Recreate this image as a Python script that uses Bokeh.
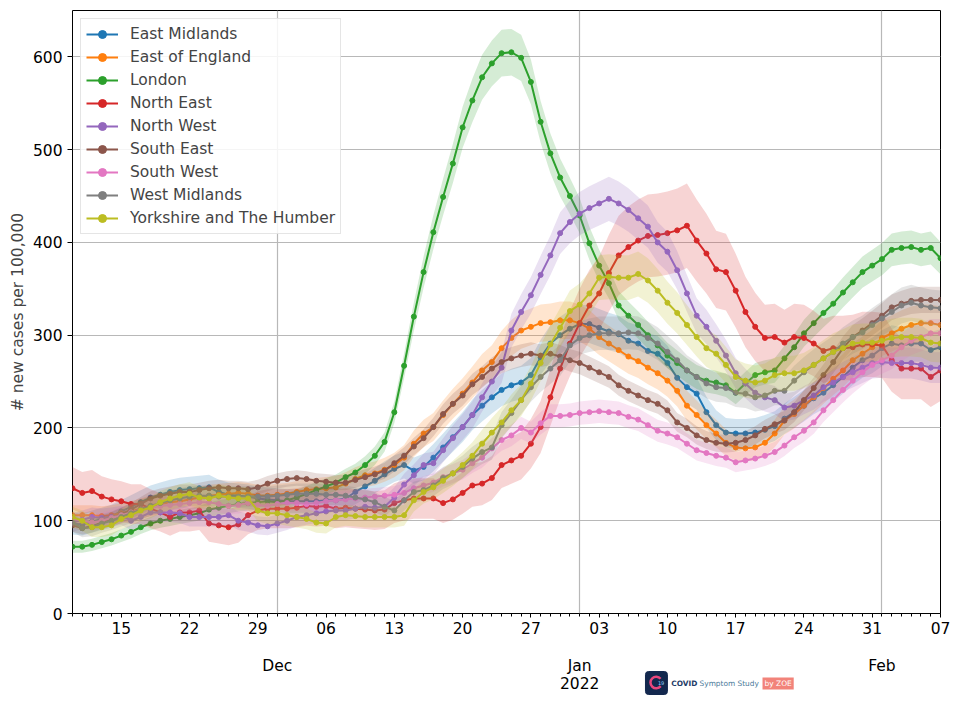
import pandas as pd
from bokeh.plotting import figure
from bokeh.layouts import column
from bokeh.models import FixedTicker, Range1d, Legend, LegendItem
from bokeh.core.properties import value
from bokeh.embed import file_html
from bokeh.resources import INLINE

# ---------------- data ----------------
dates = pd.date_range("2021-11-10", "2022-02-07", freq="D")
day = list(range(len(dates)))

regions = ["East Midlands", "East of England", "London", "North East", "North West",
           "South East", "South West", "West Midlands", "Yorkshire and The Humber"]
colors = ["#1f77b4", "#ff7f0e", "#2ca02c", "#d62728", "#9467bd",
          "#8c564b", "#e377c2", "#7f7f7f", "#bcbd22"]

east_midlands = [97, 96, 99, 102, 105, 110, 115, 120, 125, 128,
                 131, 133, 134, 135, 136, 131, 128, 127, 126, 124,
                 123, 122, 121, 121, 121, 121, 122, 122, 124, 131,
                 137, 143, 150, 156, 160, 154, 158, 168, 179, 190,
                 201, 214, 224, 233, 241, 246, 249, 257, 276, 291,
                 300, 307, 312, 312, 308, 304, 301, 294, 291, 283,
                 280, 270, 254, 244, 237, 217, 203, 195, 194, 194,
                 195, 198, 202, 210, 217, 224, 232, 238, 246, 255,
                 265, 273, 278, 286, 291, 289, 291, 291, 284, 287]
east_of_england = [106, 106, 106, 105, 106, 108, 110, 113, 116, 118,
                   120, 121, 123, 125, 127, 128, 129, 130, 129, 127,
                   127, 128, 129, 131, 133, 134, 135, 136, 140, 145,
                   149, 151, 155, 160, 168, 183, 194, 201, 214, 226,
                   237, 249, 262, 271, 286, 297, 305, 309, 313, 314,
                   316, 316, 313, 307, 298, 291, 284, 277, 272, 265,
                   259, 251, 240, 224, 214, 203, 194, 184, 179, 178,
                   179, 184, 194, 208, 215, 224, 233, 243, 253, 262,
                   273, 280, 287, 297, 302, 307, 311, 313, 313, 311]
london = [72, 72, 74, 77, 80, 84, 88, 93, 97, 100,
          102, 104, 106, 108, 112, 114, 116, 118, 119, 120,
          121, 120, 122, 125, 129, 133, 137, 141, 147, 152,
          160, 170, 185, 217, 267, 320, 368, 411, 449, 485,
          524, 553, 578, 593, 604, 605, 599, 573, 530, 496,
          470, 450, 429, 399, 375, 356, 332, 321, 311, 300,
          289, 278, 270, 262, 255, 251, 249, 246, 238, 248,
          257, 260, 262, 275, 287, 302, 313, 324, 334, 346,
          357, 368, 375, 382, 392, 394, 395, 392, 394, 383]
north_east = [135, 130, 132, 126, 123, 121, 118, 118, 113, 109,
              104, 109, 109, 111, 97, 95, 93, 96, 106, 111,
              113, 113, 113, 114, 116, 115, 116, 113, 114, 113,
              112, 111, 112, 119, 122, 124, 124, 124, 119, 123,
              130, 138, 140, 146, 160, 165, 170, 183, 201, 233,
              264, 291, 313, 332, 345, 367, 386, 395, 402, 407,
              408, 410, 413, 418, 402, 388, 371, 368, 348, 325,
              309, 297, 298, 292, 298, 297, 291, 283, 286, 286,
              287, 290, 290, 289, 273, 264, 264, 264, 255, 262]
north_west = [98, 101, 104, 103, 104, 106, 100, 104, 109, 109,
              109, 108, 104, 104, 104, 104, 106, 100, 98, 95,
              94, 97, 100, 104, 106, 108, 110, 111, 111, 113,
              115, 114, 115, 125, 139, 149, 160, 162, 176, 189,
              201, 214, 233, 250, 265, 305, 325, 343, 365, 386,
              410, 422, 431, 437, 442, 447, 442, 435, 426, 417,
              400, 390, 370, 345, 321, 309, 294, 278, 259, 248,
              238, 233, 230, 222, 224, 230, 235, 244, 249, 255,
              260, 265, 270, 271, 270, 270, 270, 268, 265, 265]
south_east = [95, 92, 94, 98, 102, 107, 112, 118, 124, 127,
              129, 131, 131, 133, 135, 136, 135, 135, 134, 136,
              140, 143, 145, 146, 145, 143, 142, 141, 141, 144,
              147, 150, 154, 162, 170, 180, 189, 201, 215, 226,
              235, 247, 255, 264, 271, 275, 278, 280, 278, 280,
              277, 273, 270, 265, 260, 255, 246, 240, 235, 230,
              226, 219, 206, 200, 192, 187, 184, 183, 184, 187,
              192, 199, 204, 208, 217, 230, 243, 257, 271, 286,
              298, 305, 313, 321, 330, 334, 337, 338, 338, 338]
south_west = [102, 100, 98, 100, 103, 106, 109, 112, 114, 116,
              117, 118, 119, 120, 120, 118, 116, 117, 119, 117,
              116, 118, 119, 119, 118, 119, 121, 122, 123, 124,
              125, 126, 127, 128, 130, 135, 138, 141, 147, 151,
              155, 162, 168, 178, 187, 192, 200, 195, 205, 213,
              213, 214, 216, 217, 218, 217, 216, 212, 209, 203,
              197, 194, 190, 183, 176, 173, 170, 168, 163, 165,
              167, 170, 174, 181, 190, 197, 206, 219, 230, 241,
              251, 260, 268, 273, 278, 287, 294, 298, 302, 302]
west_midlands = [98, 92, 93, 97, 100, 104, 108, 112, 116, 119,
                 122, 124, 126, 127, 127, 126, 126, 126, 126, 126,
                 126, 127, 128, 129, 129, 129, 128, 128, 127, 125,
                 123, 120, 115, 111, 122, 131, 133, 138, 146, 151,
                 158, 167, 174, 179, 203, 216, 230, 244, 255, 264,
                 273, 289, 297, 300, 302, 302, 302, 303, 302, 297,
                 291, 282, 273, 262, 255, 248, 244, 243, 238, 237,
                 233, 235, 240, 240, 251, 260, 268, 275, 282, 291,
                 298, 303, 311, 318, 325, 332, 335, 332, 330, 329]
yorkshire = [104, 100, 93, 93, 95, 102, 106, 111, 114, 120,
             124, 127, 129, 125, 124, 127, 125, 124, 124, 111,
             108, 108, 106, 104, 102, 98, 97, 104, 106, 105,
             104, 104, 104, 104, 106, 122, 131, 136, 143, 151,
             160, 170, 183, 195, 206, 219, 230, 248, 270, 290,
             308, 326, 333, 345, 362, 363, 362, 362, 366, 359,
             348, 335, 324, 311, 298, 286, 280, 268, 255, 251,
             249, 251, 257, 259, 259, 262, 268, 275, 282, 286,
             291, 292, 292, 294, 297, 298, 298, 297, 292, 291]

series = [east_midlands, east_of_england, london, north_east, north_west,
          south_east, south_west, west_midlands, yorkshire]

# confidence band half-width = ci_base + ci_rel * value (per region)
ci_base = [8, 6, 4, 12, 6, 4, 5, 6, 6]
ci_rel = [0.04, 0.045, 0.035, 0.08, 0.04, 0.03, 0.035, 0.04, 0.05]

week_ticks = [5, 12, 19, 26, 33, 40, 47, 54, 61, 68, 75, 82, 89]
week_labels = [dates[i].strftime("%d") for i in week_ticks]
month_ticks = [21, 52, 83]
month_labels = ["Dec", "Jan", "Feb"]
year_tick = [52]
year_label = ["2022"]
y_ticks = [0, 100, 200, 300, 400, 500, 600]

FONT = "DejaVu Sans"
FS = "15.5px"

# ---------------- main figure ----------------
p = figure(width=960, height=650, output_backend="svg", toolbar_location=None,
           x_range=Range1d(0, 89), y_range=Range1d(0, 650),
           min_border_left=72, min_border_right=20, min_border_top=10,
           min_border_bottom=37)
p.background_fill_color = "white"
p.border_fill_color = "white"
p.outline_line_color = "black"
p.outline_line_width = 1

items = []
for name, col, vals, b, r in zip(regions, colors, series, ci_base, ci_rel):
    lo = [v - (b + r * v) for v in vals]
    hi = [v + (b + r * v) for v in vals]
    p.varea(x=day, y1=lo, y2=hi, fill_color=col, fill_alpha=0.2)
    ln = p.line(day, vals, line_color=col, line_width=2)
    sc = p.scatter(day, vals, size=5, fill_color=col, line_color=col)
    items.append(LegendItem(label=name, renderers=[ln, sc]))

xa = p.xaxis[0]
xa.ticker = FixedTicker(ticks=week_ticks, minor_ticks=day)
xa.major_label_overrides = {t: l for t, l in zip(week_ticks, week_labels)}
xa.major_tick_out = 4
xa.major_tick_in = 0
xa.minor_tick_out = 3
xa.minor_tick_in = 0
xa.axis_line_color = None
xa.major_label_text_font = FONT
xa.major_label_text_font_size = FS
xa.major_label_text_color = "black"
xa.major_label_standoff = 4

ya = p.yaxis[0]
ya.ticker = FixedTicker(ticks=y_ticks)
ya.major_tick_out = 5
ya.major_tick_in = 0
ya.minor_tick_line_color = None
ya.axis_line_color = None
ya.major_label_text_font = FONT
ya.major_label_text_font_size = FS
ya.major_label_text_color = "black"
ya.axis_label = "# new cases per 100,000"
ya.axis_label_text_font = FONT
ya.axis_label_text_font_style = "normal"
ya.axis_label_text_font_size = FS
ya.axis_label_standoff = 3

p.xgrid.ticker = FixedTicker(ticks=month_ticks)
p.xgrid.grid_line_color = "#b8b8b8"
p.xgrid.grid_line_width = 1.2
p.ygrid.ticker = FixedTicker(ticks=y_ticks)
p.ygrid.grid_line_color = "#b8b8b8"
p.ygrid.grid_line_width = 1.2

legend = Legend(items=items, location="top_left",
                label_text_font=FONT, label_text_font_size=FS,
                glyph_width=32, glyph_height=20, label_height=20,
                spacing=3, padding=5, margin=8, label_standoff=12,
                border_line_color="#cccccc", border_line_width=1,
                background_fill_alpha=0.85)
p.add_layout(legend)

# ---------------- bottom strip: month labels + logo ----------------
s = figure(width=960, height=52, output_backend="svg", toolbar_location=None,
           x_range=p.x_range, y_range=Range1d(0, 52),
           min_border_left=72, min_border_right=20, min_border_top=0,
           min_border_bottom=0, x_axis_location=None, y_axis_location=None)
s.outline_line_color = None
s.grid.visible = False
s.background_fill_color = "white"
s.border_fill_color = "white"

s.text(x=month_ticks, y=[37] * len(month_ticks), text=month_labels,
       text_font=value(FONT), text_font_size=FS, text_color="black",
       text_align="center", text_baseline="middle")
s.text(x=year_tick, y=[20], text=year_label,
       text_font=value(FONT), text_font_size=FS, text_color="black",
       text_align="center", text_baseline="middle")

# logo (decoration): positions in day units / strip pixels
s.quad(left=[58.75], right=[61.0], top=[31], bottom=[8],
       fill_color="#13284e", line_color="#13284e", border_radius=3)
s.annular_wedge(x=[59.85], y=[20], inner_radius=4.5, outer_radius=7,
                inner_radius_units="screen", outer_radius_units="screen",
                start_angle=0.7, end_angle=5.6,
                fill_color="#e8467c", line_color=None)
s.text(x=[60.35], y=[20], text=["19"], text_font=value(FONT), text_font_size="5px",
       text_color="#8fd3ff", text_align="center", text_baseline="middle")
s.text(x=[61.4], y=[19.5], text=["COVID"], text_font=value(FONT), text_font_size="7.4px",
       text_font_style="bold", text_color="#1f3d68", text_baseline="middle")
s.text(x=[64.3], y=[19.5], text=["Symptom Study"], text_font=value(FONT),
       text_font_size="7.4px", text_color="#4a7a9a", text_baseline="middle")
s.quad(left=[70.75], right=[73.95], top=[25], bottom=[13],
       fill_color="#f2837a", line_color=None)
s.text(x=[72.35], y=[19], text=["by ZOE"], text_font=value(FONT), text_font_size="7.5px",
       text_color="white", text_align="center", text_baseline="middle")

layout = column(p, s, spacing=0)
open("out.html", "w").write(file_html(layout, INLINE))
